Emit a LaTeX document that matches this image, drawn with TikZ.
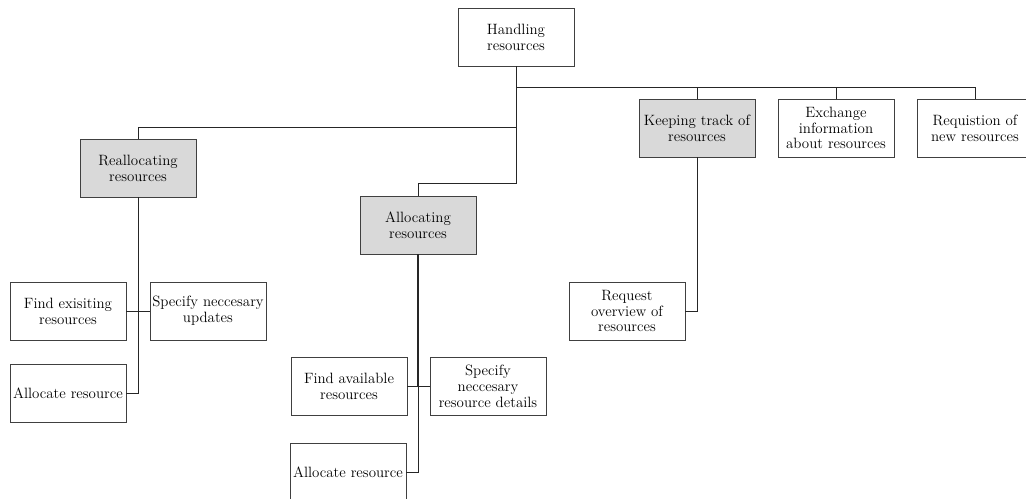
\documentclass[tikz,border=0pt]{standalone}
\begin{document}
\begin{tikzpicture}[x=0.75pt,y=-0.75pt,
  task/.style={draw=black!75, line width=0.5pt, minimum width=87pt,
    minimum height=43.5pt, inner sep=1pt, align=center,
    font=\fontsize{11.2}{11.9}\selectfont},
  group/.style={task, fill=black!15},
  link/.style={draw=black!85, line width=0.5pt}]
\useasboundingbox (0,0) rectangle (1026,499);

% top level
\node[task]  (root)    at (516,37)  {Handling\\resources};
\node[group] (realloc) at (138,168) {Reallocating\\resources};
\node[group] (alloc)   at (418,225) {Allocating\\resources};
\node[group] (keep)    at (697,128) {Keeping track of\\resources};
\node[task]  (exch)    at (836,128) {Exchange\\information\\about resources};
\node[task]  (req)     at (975,128) {Requistion of\\new resources};

% reallocating
\node[task] (findR)  at (68,311)  {Find exisiting\\resources};
\node[task] (specR)  at (208,311) {Specify neccesary\\updates};
\node[task] (allocR) at (68,393)  {Allocate resource};

% allocating
\node[task] (findA)  at (349,386) {Find available\\resources};
\node[task] (specA)  at (488,386) {Specify\\neccesary\\resource details};
\node[task] (allocA) at (348,472) {Allocate resource};

% keeping track
\node[task] (reqov) at (627,311) {Request\\overview of\\resources};

% connectors
\coordinate (busA) at (516,87);
\coordinate (busB) at (516,127);
\coordinate (busC) at (516,183);
\draw[link] (root.south) -- (busA) -| (keep.north);
\draw[link] (busA) -| (exch.north);
\draw[link] (busA) -| (req.north);
\draw[link] (busA) -- (busB) -| (realloc.north);
\draw[link] (busB) -- (busC) -| (alloc.north);

\draw[link] (realloc.south) |- (allocR.east);
\draw[link] (findR.east) -- (specR.west);

\draw[link] (alloc.south) |- (allocA.east);
\draw[link, line width=0.9pt] (alloc.south) -- (alloc.south |- findA.east);
\draw[link] (findA.east) -- (specA.west);

\draw[link] (keep.south) |- (reqov.east);
\end{tikzpicture}
\end{document}
